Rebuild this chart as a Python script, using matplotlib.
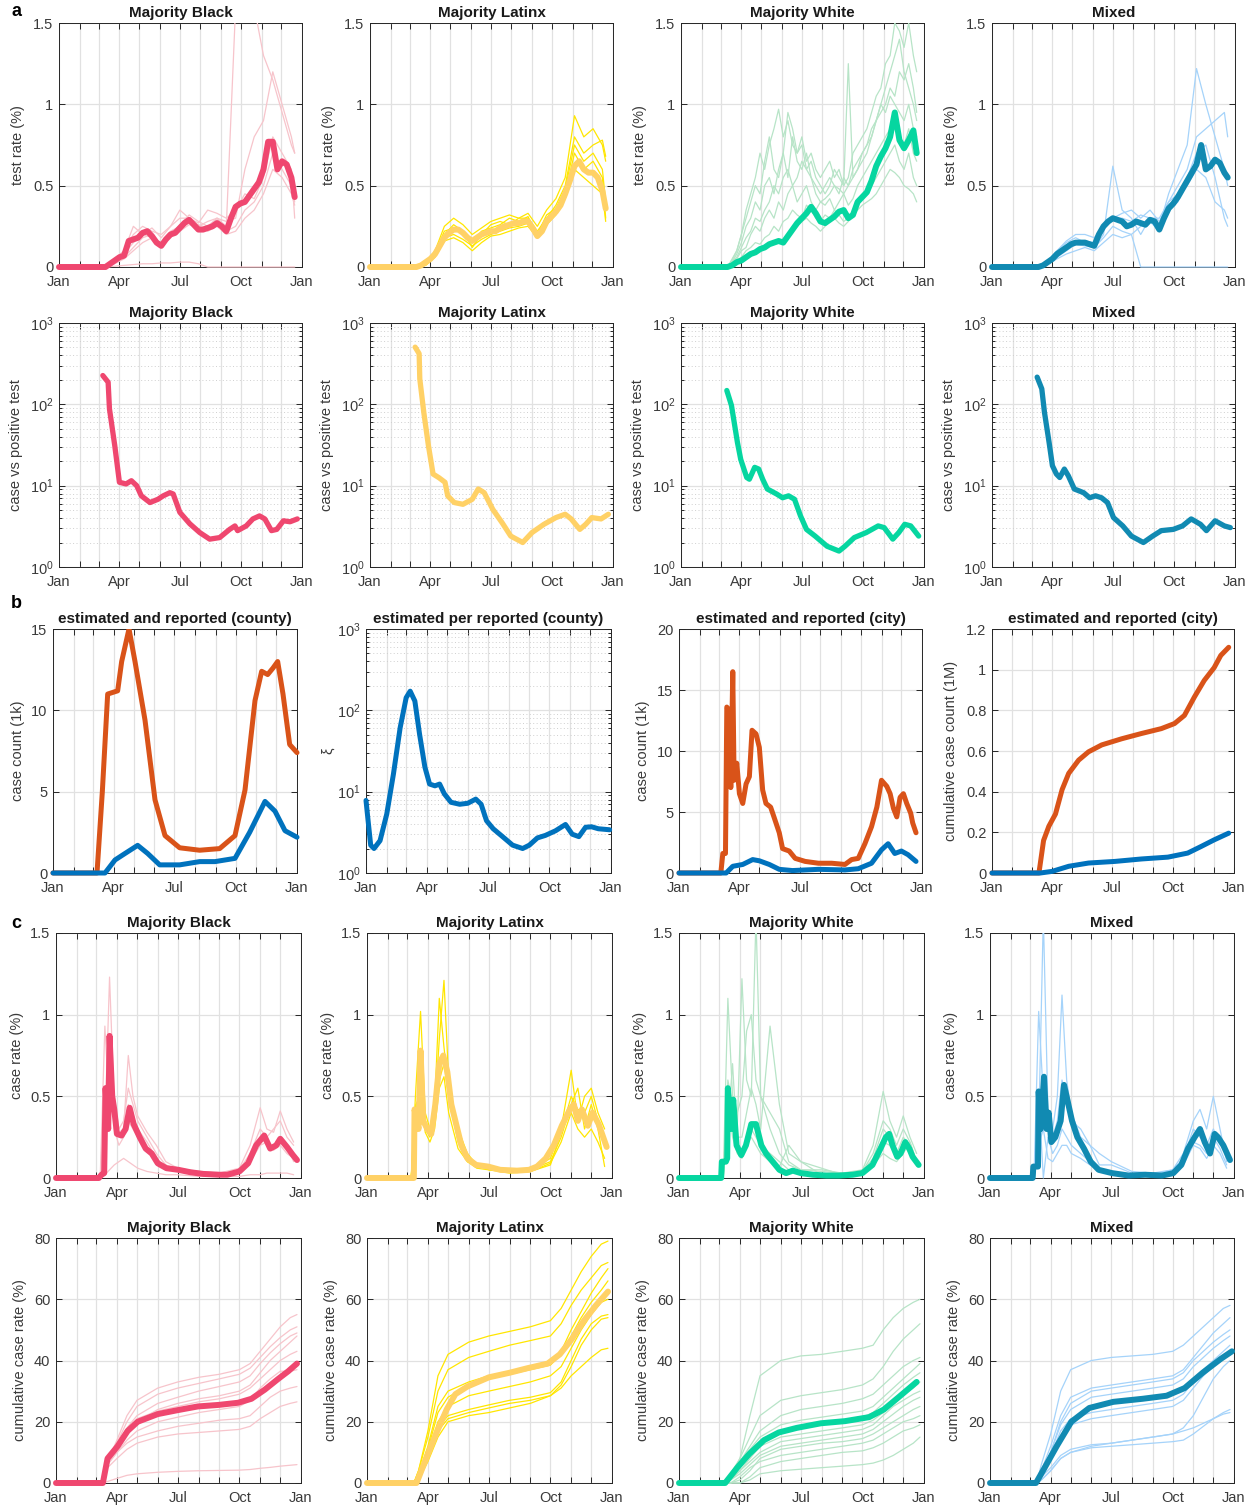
import matplotlib
matplotlib.use("Agg")
import matplotlib.pyplot as plt
from matplotlib.patches import Rectangle
from matplotlib.ticker import FixedLocator, NullFormatter, LogLocator, LogFormatterSciNotation

plt.rcParams['font.family'] = ['Liberation Sans', 'DejaVu Sans']
plt.rcParams['mathtext.fontset'] = 'custom'
plt.rcParams['mathtext.rm'] = 'Liberation Sans'
plt.rcParams['mathtext.it'] = 'Liberation Sans:italic'
plt.rcParams['mathtext.bf'] = 'Liberation Sans:bold'

# ---------------------------------------------------------------- calendar
MONTH_STARTS = [0, 31, 60, 91, 121, 152, 182, 213, 244, 274, 305, 335, 366]
TICK_DAYS = [0, 91, 182, 274, 366]
TICK_LABELS = ['Jan', 'Apr', 'Jul', 'Oct', 'Jan']

GROUPS = ['Majority Black', 'Majority Latinx', 'Majority White', 'Mixed']
THICK_COLORS = ['#EF476F', '#FFD166', '#06D6A0', '#118AB2']
THIN_COLORS = ['#F7C4CB', '#FFE600', '#B7E4C7', '#A5D3FA']
EST_COLOR = '#D95319'
REP_COLOR = '#0072BD'

# ---------------------------------------------------------------- test rate (%)
TEST_DAYS = [0, 70, 77, 84, 91, 98, 105, 112, 119, 126, 133, 140, 147, 154, 161, 168, 175, 182, 189, 196,
             203, 210, 217, 224, 231, 238, 245, 252, 259, 266, 273, 280, 287, 294, 301, 308, 315, 322, 329,
             336, 343, 350, 355]
TEST_BLACK = [0, 0, 0.02, 0.04, 0.06, 0.07, 0.16, 0.17, 0.18, 0.21, 0.22, 0.19, 0.15, 0.13, 0.17, 0.2, 0.21,
              0.24, 0.27, 0.29, 0.26, 0.23, 0.23, 0.24, 0.25, 0.27, 0.25, 0.22, 0.3, 0.37, 0.39, 0.4, 0.44,
              0.48, 0.52, 0.6, 0.77, 0.77, 0.6, 0.65, 0.63, 0.55, 0.43]
TEST_LATINX = [0, 0, 0.01, 0.03, 0.05, 0.08, 0.13, 0.18, 0.21, 0.23, 0.23, 0.21, 0.18, 0.16, 0.18, 0.2, 0.21,
               0.22, 0.22, 0.24, 0.25, 0.26, 0.27, 0.27, 0.28, 0.28, 0.24, 0.19, 0.22, 0.28, 0.31, 0.34, 0.38,
               0.45, 0.53, 0.62, 0.65, 0.6, 0.58, 0.58, 0.55, 0.47, 0.36]
TEST_WHITE = [0, 0, 0.01, 0.03, 0.04, 0.06, 0.08, 0.09, 0.11, 0.12, 0.14, 0.15, 0.16, 0.15, 0.19, 0.23, 0.27,
              0.3, 0.33, 0.37, 0.33, 0.28, 0.27, 0.29, 0.31, 0.34, 0.35, 0.3, 0.32, 0.4, 0.43, 0.46, 0.53,
              0.62, 0.68, 0.73, 0.8, 0.95, 0.78, 0.73, 0.78, 0.84, 0.7]
TEST_MIXED = [0, 0, 0.01, 0.03, 0.05, 0.08, 0.1, 0.12, 0.14, 0.15, 0.15, 0.15, 0.14, 0.13, 0.2, 0.25, 0.28,
              0.3, 0.29, 0.28, 0.25, 0.26, 0.28, 0.27, 0.26, 0.29, 0.28, 0.23, 0.3, 0.36, 0.39, 0.43, 0.48,
              0.53, 0.58, 0.63, 0.75, 0.6, 0.62, 0.66, 0.64, 0.58, 0.55]

TEST_THIN_DAYS = [0, 70, 84, 98, 112, 126, 140, 154, 168, 182, 196, 210, 224, 238, 252, 266, 280, 294, 308,
                  322, 336, 350, 355]
TEST_THIN_BLACK = [
    [0, 0, 0.05, 0.1, 0.2, 0.25, 0.22, 0.2, 0.25, 0.3, 0.3, 0.25, 0.28, 0.3, 0.25, 1.6, 1.6, 1.6, 1.3, 1.15, 0.95, 0.75, 0.7],
    [0, 0, 0.04, 0.08, 0.15, 0.2, 0.18, 0.15, 0.22, 0.25, 0.28, 0.26, 0.24, 0.3, 0.28, 0.3, 0.6, 0.8, 0.9, 1.2, 1.0, 0.8, 0.7],
    [0, 0, 0.03, 0.06, 0.12, 0.18, 0.2, 0.14, 0.2, 0.26, 0.32, 0.28, 0.25, 0.3, 0.22, 0.25, 0.35, 0.4, 0.5, 0.7, 0.6, 0.5, 0.4],
    [0, 0, 0.05, 0.1, 0.25, 0.2, 0.24, 0.18, 0.25, 0.35, 0.3, 0.27, 0.35, 0.33, 0.3, 0.35, 0.45, 0.42, 0.55, 0.8, 0.7, 0.6, 0.3],
    [0, 0, 0.02, 0.05, 0.1, 0.15, 0.18, 0.12, 0.2, 0.22, 0.26, 0.25, 0.22, 0.25, 0.2, 0.22, 0.3, 0.35, 0.45, 0.6, 0.55, 0.45, 0.38],
    [0, 0, 0.005, 0.01, 0.015, 0.02, 0.02, 0.025, 0.025, 0.03, 0.03, 0.02, 0, 0, 0, 0, 0, 0, 0, 0, 0, 0, 0],
]
TEST_THIN_LATINX = [
    [0, 0, 0.03, 0.1, 0.25, 0.3, 0.26, 0.2, 0.24, 0.28, 0.3, 0.32, 0.3, 0.33, 0.25, 0.35, 0.42, 0.55, 0.93, 0.8, 0.85, 0.75, 0.65],
    [0, 0, 0.02, 0.07, 0.18, 0.2, 0.17, 0.13, 0.17, 0.2, 0.22, 0.24, 0.25, 0.27, 0.2, 0.28, 0.33, 0.45, 0.7, 0.6, 0.65, 0.55, 0.3],
    [0, 0, 0.02, 0.08, 0.2, 0.26, 0.22, 0.12, 0.2, 0.26, 0.28, 0.26, 0.3, 0.3, 0.22, 0.3, 0.38, 0.5, 0.8, 0.7, 0.75, 0.78, 0.68],
    [0, 0, 0.01, 0.06, 0.16, 0.18, 0.15, 0.1, 0.15, 0.19, 0.2, 0.22, 0.24, 0.25, 0.18, 0.26, 0.32, 0.42, 0.6, 0.55, 0.5, 0.45, 0.28],
    [0, 0, 0.02, 0.09, 0.22, 0.24, 0.2, 0.15, 0.22, 0.24, 0.26, 0.3, 0.28, 0.31, 0.2, 0.32, 0.36, 0.48, 0.75, 0.65, 0.7, 0.6, 0.4],
]
# weekly neighbourhood series for the majority-White group (same days as TEST_DAYS)
TEST_THIN_WHITE = [
    [0, 0, 0.05, 0.1, 0.2, 0.35, 0.45, 0.55, 0.7, 0.6, 0.75, 0.85, 0.97, 0.8, 0.9, 0.75, 0.7, 0.8, 0.65, 0.7,
     0.6, 0.55, 0.6, 0.65, 0.55, 0.6, 0.5, 0.55, 0.7, 0.75, 0.8, 0.85, 0.95, 1.05, 1.1, 1.25, 1.3, 1.5, 1.45,
     1.35, 1.5, 1.3, 1.2],
    [0, 0, 0.03, 0.08, 0.15, 0.25, 0.3, 0.4, 0.35, 0.5, 0.55, 0.45, 0.6, 0.7, 0.55, 0.8, 0.65, 0.6, 0.7, 0.55,
     0.5, 0.45, 0.5, 0.55, 0.5, 0.45, 0.55, 0.5, 0.6, 0.65, 0.7, 0.75, 0.8, 0.9, 0.95, 1.0, 1.1, 1.05, 1.2,
     1.15, 1.25, 1.1, 0.95],
    [0, 0, 0.02, 0.05, 0.1, 0.12, 0.2, 0.25, 0.22, 0.3, 0.35, 0.3, 0.4, 0.35, 0.45, 0.5, 0.4, 0.45, 0.5, 0.4,
     0.35, 0.4, 0.38, 0.42, 0.35, 0.4, 0.45, 0.38, 0.42, 0.5, 0.55, 0.6, 0.65, 0.7, 0.75, 0.8, 0.85, 0.9, 0.8,
     0.75, 0.85, 0.7, 0.65],
    [0, 0, 0.02, 0.04, 0.06, 0.1, 0.12, 0.15, 0.14, 0.18, 0.2, 0.25, 0.22, 0.28, 0.3, 0.35, 0.32, 0.3, 0.38,
     0.35, 0.3, 0.28, 0.32, 0.3, 0.35, 0.32, 0.28, 0.3, 0.35, 0.4, 0.42, 0.45, 0.5, 0.55, 0.6, 0.65, 0.7, 0.75,
     0.65, 0.6, 0.7, 0.55, 0.5],
    [0, 0, 0.04, 0.1, 0.2, 0.3, 0.4, 0.5, 0.45, 0.65, 0.8, 0.6, 0.55, 0.7, 0.95, 0.85, 0.7, 0.75, 0.6, 0.65,
     0.55, 0.5, 0.45, 0.5, 0.6, 0.55, 0.5, 1.25, 0.55, 0.6, 0.65, 0.7, 0.8, 0.9, 1.0, 1.1, 1.2, 1.3, 1.4, 1.2,
     1.1, 1.0, 0.9],
    [0, 0, 0.01, 0.03, 0.05, 0.07, 0.08, 0.1, 0.12, 0.11, 0.13, 0.15, 0.17, 0.16, 0.2, 0.22, 0.25, 0.28, 0.3,
     0.27, 0.25, 0.22, 0.25, 0.28, 0.3, 0.27, 0.25, 0.28, 0.32, 0.35, 0.38, 0.4, 0.42, 0.45, 0.5, 0.55, 0.6,
     0.58, 0.55, 0.5, 0.48, 0.45, 0.4],
    [0, 0, 0.03, 0.06, 0.12, 0.18, 0.22, 0.3, 0.28, 0.35, 0.4, 0.5, 0.45, 0.55, 0.6, 0.5, 0.55, 0.65, 0.6, 0.55,
     0.45, 0.4, 0.42, 0.45, 0.5, 0.48, 0.45, 0.5, 0.55, 0.6, 0.7, 0.75, 0.85, 0.9, 1.0, 0.95, 1.05, 1.0, 0.95,
     0.9, 1.0, 0.85, 0.8],
]
TEST_THIN_MIXED = [
    [0, 0, 0.03, 0.1, 0.15, 0.18, 0.15, 0.12, 0.2, 0.62, 0.35, 0.3, 0.2, 0.3, 0.25, 0.45, 0.6, 0.75, 1.22, 1.0, 0.8, 0.6, 0.5],
    [0, 0, 0.02, 0.08, 0.12, 0.14, 0.13, 0.12, 0.18, 0.25, 0.22, 0.2, 0, 0, 0, 0, 0, 0, 0, 0, 0, 0, 0],
    [0, 0, 0.02, 0.06, 0.1, 0.14, 0.16, 0.15, 0.25, 0.3, 0.33, 0.35, 0.3, 0.35, 0.28, 0.4, 0.45, 0.5, 0.6, 0.55, 0.4, 0.35, 0.3],
    [0, 0, 0.04, 0.1, 0.16, 0.2, 0.2, 0.18, 0.25, 0.3, 0.3, 0.28, 0.32, 0.3, 0.3, 0.4, 0.5, 0.6, 0.8, 0.85, 0.9, 0.95, 0.8],
    [0, 0, 0.02, 0.05, 0.08, 0.1, 0.12, 0.1, 0.15, 0.2, 0.18, 0.2, 0.25, 0.28, 0.22, 0.35, 0.4, 0.55, 0.7, 0.75, 0.55, 0.3, 0.25],
]

# ---------------------------------------------------------------- cases per positive test
RATIO_X_BLACK = [66, 74, 76, 84, 91, 101, 109, 117, 124, 137, 149, 157, 167, 172, 182, 197, 212, 227, 242, 257,
                 265, 269, 282, 292, 302, 310, 320, 328, 338, 348, 359]
RATIO_Y_BLACK = [226, 187, 88, 31, 11, 10.5, 11.5, 10, 7.5, 6.2, 6.8, 7.5, 8.2, 7.9, 4.7, 3.4, 2.65, 2.2, 2.3,
                 2.9, 3.2, 2.8, 3.2, 3.9, 4.25, 3.9, 2.8, 2.9, 3.7, 3.6, 3.9]
RATIO_X_LATINX = [68, 74, 75, 81, 88, 95, 104, 113, 117, 127, 140, 154, 163, 172, 185, 199, 212, 230, 244, 262,
                  280, 294, 303, 316, 325, 334, 348, 359]
RATIO_Y_LATINX = [505, 420, 205, 80, 31, 13.9, 12.5, 11, 7.5, 6.2, 5.9, 6.8, 9.1, 8.2, 5.1, 3.5, 2.4, 2.0, 2.65,
                  3.35, 4.05, 4.45, 3.9, 2.9, 3.35, 4.05, 3.9, 4.45]
RATIO_X_WHITE = [69, 76, 85, 90, 99, 103, 111, 117, 123, 130, 144, 153, 162, 171, 180, 189, 202, 220, 238, 247,
                 261, 279, 297, 306, 319, 328, 337, 346, 358]
RATIO_Y_WHITE = [148, 97, 34, 21, 12.6, 12, 16.8, 16, 12, 9.1, 7.9, 7.1, 7.5, 6.8, 4.25, 2.9, 2.4, 1.8, 1.57,
                 1.8, 2.3, 2.65, 3.2, 3.05, 2.2, 2.65, 3.35, 3.2, 2.4]
RATIO_X_MIXED = [68, 75, 79, 86, 91, 97, 102, 109, 115, 124, 138, 147, 156, 165, 174, 183, 197, 210, 228, 242,
                 255, 273, 287, 300, 314, 323, 336, 350, 359]
RATIO_Y_MIXED = [216, 155, 80, 34, 17.6, 13.9, 12.6, 16, 13.2, 9.1, 8.2, 7.1, 7.5, 7.1, 6.2, 4.05, 3.2, 2.4, 2.0,
                 2.4, 2.8, 2.9, 3.2, 3.9, 3.35, 2.8, 3.7, 3.2, 3.05]

# ---------------------------------------------------------------- county / city totals
COUNTY_EST_X = [0, 66, 74, 82, 97, 103, 114, 123, 138, 153, 168, 190, 220, 250, 273, 288, 303, 313, 322, 330,
                337, 345, 355, 366]
COUNTY_EST_Y = [0, 0, 5, 11, 11.2, 13, 15, 13, 9.4, 4.5, 2.3, 1.55, 1.4, 1.5, 2.3, 5.1, 10.6, 12.4, 12.2, 12.6,
                13.0, 11, 7.9, 7.4]
COUNTY_REP_X = [0, 78, 93, 108, 127, 142, 160, 190, 220, 243, 273, 295, 318, 333, 348, 366]
COUNTY_REP_Y = [0, 0, 0.8, 1.2, 1.7, 1.2, 0.5, 0.5, 0.7, 0.7, 0.9, 2.5, 4.4, 3.8, 2.6, 2.2]

XI_X = [0, 3, 7, 12, 21, 31, 41, 51, 60, 66, 73, 80, 88, 95, 103, 110, 117, 127, 140, 152, 164, 172, 180, 190,
        204, 219, 234, 244, 256, 268, 283, 298, 308, 318, 328, 337, 347, 364]
XI_Y = [7.8, 4.5, 2.2, 2.0, 2.5, 5.3, 16.5, 61, 143, 172, 130, 51, 20, 12.4, 11.8, 12.4, 9.4, 7.4, 7.0, 7.2, 8.1,
        7.0, 4.4, 3.5, 2.8, 2.2, 2.0, 2.2, 2.7, 2.9, 3.3, 3.95, 3.0, 2.8, 3.65, 3.7, 3.5, 3.4]

CITY_EST_X = [0, 63, 66, 70, 72, 76, 78, 81, 83, 87, 91, 96, 101, 106, 110, 116, 121, 126, 131, 138, 143, 151,
              156, 166, 175, 190, 210, 230, 250, 260, 270, 280, 290, 298, 305, 313, 318, 323, 328, 333, 338, 343,
              349, 352, 357]
CITY_EST_Y = [0, 0, 1.6, 1.6, 13.6, 13.3, 7.0, 16.5, 7.6, 9.0, 6.5, 5.7, 7.3, 7.9, 11.7, 11.4, 10.3, 6.8, 5.7,
              5.4, 4.6, 3.3, 2.0, 1.8, 1.2, 0.95, 0.8, 0.8, 0.7, 1.1, 1.2, 2.4, 3.8, 5.4, 7.6, 7.1, 6.5, 5.3, 4.6,
              6.2, 6.5, 5.7, 4.9, 4.1, 3.3]
CITY_REP_X = [0, 71, 81, 96, 111, 121, 136, 151, 171, 210, 250, 270, 290, 305, 315, 325, 335, 345, 357]
CITY_REP_Y = [0, 0, 0.55, 0.7, 1.1, 1.0, 0.7, 0.3, 0.2, 0.3, 0.25, 0.35, 0.8, 1.9, 2.4, 1.6, 1.8, 1.5, 0.95]

CITY_CUM_EST_X = [0, 71, 78, 86, 96, 106, 116, 131, 146, 166, 196, 226, 256, 276, 291, 306, 321, 336, 346, 358]
CITY_CUM_EST_Y = [0, 0, 0.16, 0.23, 0.29, 0.41, 0.49, 0.555, 0.596, 0.63, 0.66, 0.686, 0.71, 0.735, 0.775,
                  0.865, 0.947, 1.01, 1.07, 1.11]
CITY_CUM_REP_X = [0, 73, 91, 116, 146, 186, 226, 266, 296, 316, 336, 358]
CITY_CUM_REP_Y = [0, 0, 0.008, 0.033, 0.049, 0.057, 0.069, 0.078, 0.098, 0.13, 0.163, 0.196]

# ---------------------------------------------------------------- case rate (%)
CASE_X_BLACK = [0, 64, 68, 72, 74, 78, 80, 84, 87, 91, 98, 104, 110, 116, 125, 134, 143, 152, 165, 183, 201,
                220, 244, 256, 274, 287, 299, 311, 320, 329, 335, 345, 354, 360]
CASE_Y_BLACK = [0, 0, 0.02, 0.03, 0.55, 0.3, 0.87, 0.5, 0.42, 0.27, 0.26, 0.3, 0.43, 0.33, 0.25, 0.18, 0.15,
                0.09, 0.06, 0.05, 0.035, 0.025, 0.02, 0.02, 0.04, 0.09, 0.2, 0.26, 0.18, 0.2, 0.24, 0.19, 0.14,
                0.11]
CASE_X_LATINX = [0, 68, 70, 71, 77, 80, 84, 90, 96, 102, 108, 114, 120, 126, 132, 141, 150, 163, 181, 199, 224,
                 242, 254, 267, 279, 291, 303, 309, 315, 321, 330, 337, 346, 352, 358]
CASE_Y_LATINX = [0, 0, 0.0, 0.42, 0.3, 0.78, 0.35, 0.3, 0.27, 0.45, 0.7, 0.75, 0.65, 0.45, 0.35, 0.2, 0.12,
                 0.08, 0.07, 0.05, 0.045, 0.05, 0.07, 0.12, 0.2, 0.32, 0.42, 0.45, 0.35, 0.42, 0.32, 0.4, 0.33,
                 0.26, 0.19]
CASE_X_WHITE = [0, 63, 64, 70, 72, 73, 78, 81, 86, 93, 100, 108, 115, 123, 130, 140, 150, 160, 170, 182, 200,
                220, 239, 259, 274, 289, 301, 309, 314, 319, 326, 331, 338, 344, 349, 358]
CASE_Y_WHITE = [0, 0, 0.1, 0.1, 0.12, 0.55, 0.3, 0.48, 0.2, 0.14, 0.2, 0.33, 0.33, 0.2, 0.15, 0.1, 0.05, 0.03,
                0.045, 0.03, 0.02, 0.015, 0.015, 0.02, 0.03, 0.08, 0.18, 0.25, 0.27, 0.2, 0.13, 0.15, 0.22, 0.18,
                0.13, 0.08]
CASE_X_MIXED = [0, 64, 65, 72, 73, 76, 81, 85, 88, 92, 98, 106, 111, 116, 123, 131, 141, 151, 163, 183, 208,
                233, 258, 275, 287, 297, 307, 315, 322, 330, 337, 342, 350, 360]
CASE_Y_MIXED = [0, 0, 0.07, 0.07, 0.53, 0.3, 0.62, 0.3, 0.4, 0.22, 0.25, 0.35, 0.57, 0.48, 0.35, 0.25, 0.18,
                0.1, 0.05, 0.03, 0.015, 0.02, 0.015, 0.03, 0.08, 0.18, 0.25, 0.3, 0.22, 0.15, 0.27, 0.25, 0.2,
                0.11]

CASE_THIN_DAYS = [0, 66, 73, 80, 87, 94, 101, 108, 115, 122, 136, 150, 164, 182, 213, 244, 274, 290, 305, 315,
                  325, 335, 345, 355]
CASE_THIN_BLACK = [
    [0, 0, 0.93, 0.4, 0.5, 0.3, 0.35, 0.55, 0.45, 0.35, 0.25, 0.15, 0.08, 0.05, 0.04, 0.03, 0.06, 0.2, 0.43, 0.3, 0.28, 0.41, 0.3, 0.22],
    [0, 0, 0.3, 1.23, 0.45, 0.28, 0.3, 0.75, 0.5, 0.38, 0.28, 0.2, 0.1, 0.06, 0.04, 0.03, 0.05, 0.15, 0.3, 0.25, 0.3, 0.35, 0.25, 0.2],
    [0, 0, 0.2, 0.6, 0.35, 0.25, 0.28, 0.45, 0.38, 0.3, 0.22, 0.12, 0.07, 0.05, 0.03, 0.02, 0.04, 0.12, 0.25, 0.2, 0.2, 0.25, 0.2, 0.1],
    [0, 0, 0.5, 0.7, 0.3, 0.2, 0.25, 0.35, 0.3, 0.25, 0.18, 0.1, 0.06, 0.04, 0.03, 0.02, 0.03, 0.1, 0.2, 0.22, 0.17, 0.2, 0.15, 0.12],
    [0, 0, 0.02, 0.05, 0.08, 0.1, 0.12, 0.1, 0.08, 0.06, 0.04, 0.03, 0.02, 0.02, 0.01, 0.01, 0.01, 0.02, 0.02, 0.03, 0.03, 0.03, 0.03, 0.02],
]
CASE_THIN_LATINX = [
    [0, 0, 0.55, 1.02, 0.4, 0.3, 0.45, 1.1, 0.8, 0.55, 0.3, 0.15, 0.08, 0.06, 0.05, 0.05, 0.12, 0.3, 0.66, 0.35, 0.5, 0.55, 0.4, 0.3],
    [0, 0, 0.4, 0.6, 0.3, 0.25, 0.4, 0.85, 1.21, 0.6, 0.25, 0.12, 0.07, 0.06, 0.04, 0.05, 0.1, 0.25, 0.45, 0.55, 0.3, 0.45, 0.3, 0.07],
    [0, 0, 0.35, 0.7, 0.32, 0.28, 0.35, 0.6, 0.7, 0.5, 0.22, 0.1, 0.08, 0.05, 0.04, 0.04, 0.09, 0.22, 0.4, 0.3, 0.25, 0.3, 0.22, 0.12],
    [0, 0, 0.45, 0.5, 0.28, 0.22, 0.3, 0.55, 0.62, 0.4, 0.18, 0.1, 0.06, 0.05, 0.03, 0.04, 0.08, 0.28, 0.5, 0.42, 0.4, 0.5, 0.35, 0.2],
]
CASE_THIN_WHITE = [
    [0, 0, 1.1, 0.5, 0.4, 0.5, 0.9, 1.0, 0.6, 0.5, 0.4, 0.3, 0.1, 0.05, 0.05, 0.03, 0.05, 0.2, 0.53, 0.35, 0.25, 0.38, 0.25, 0.15],
    [0, 0, 0.6, 0.45, 0.3, 1.22, 0.6, 0.5, 1.6, 0.5, 0.3, 0.15, 0.08, 0.05, 0.04, 0.03, 0.04, 0.15, 0.35, 0.3, 0.2, 0.3, 0.22, 0.1],
    [0, 0, 0.4, 0.3, 0.25, 0.25, 0.4, 0.55, 0.45, 0.3, 0.93, 0.45, 0.15, 0.1, 0.06, 0.02, 0.04, 0.12, 0.3, 0.25, 0.15, 0.25, 0.2, 0.1],
    [0, 0, 0.3, 0.7, 0.2, 0.15, 0.2, 0.3, 0.25, 0.2, 0.15, 0.1, 0.05, 0.04, 0.02, 0.02, 0.03, 0.1, 0.22, 0.2, 0.15, 0.2, 0.15, 0.08],
    [0, 0, 0.5, 0.25, 0.15, 0.12, 0.2, 0.25, 0.2, 0.15, 0.1, 0.07, 0.2, 0.1, 0.02, 0.01, 0.02, 0.08, 0.15, 0.12, 0.1, 0.15, 0.22, 0.1],
]
CASE_THIN_MIXED = [
    [0, 0, 1.02, 0.5, 0.3, 0.3, 0.5, 1.12, 0.6, 0.4, 0.25, 0.2, 0.08, 0.08, 0.03, 0.02, 0.05, 0.15, 0.35, 0.42, 0.3, 0.5, 0.3, 0.1],
    [0, 0, 0.3, 1.6, 0.4, 0.25, 0.35, 0.6, 0.5, 0.35, 0.3, 0.2, 0.15, 0.1, 0.04, 0.03, 0.05, 0.12, 0.3, 0.25, 0.2, 0.3, 0.22, 0.15],
    [0, 0, 0.5, 0.0, 0.25, 0.15, 0.2, 0.3, 0.25, 0.2, 0.15, 0.1, 0.05, 0.04, 0.02, 0.01, 0.03, 0.1, 0.22, 0.2, 0.15, 0.25, 0.18, 0.08],
    [0, 0, 0.2, 0.3, 0.12, 0.1, 0.15, 0.2, 0.2, 0.15, 0.12, 0.08, 0.05, 0.03, 0.02, 0.01, 0.02, 0.08, 0.2, 0.18, 0.12, 0.2, 0.15, 0.06],
]

# ---------------------------------------------------------------- cumulative case rate (%)
CUM_X_BLACK = [0, 70, 77, 92, 107, 122, 152, 182, 212, 243, 272, 292, 312, 332, 347, 360]
CUM_Y_BLACK = [0, 0, 8, 12, 17, 20, 22.5, 23.8, 25, 25.5, 26.2, 27.5, 30.5, 34, 36.5, 39]
CUM_X_LATINX = [0, 74, 92, 105, 119, 132, 150, 182, 213, 240, 270, 288, 306, 324, 342, 360]
CUM_Y_LATINX = [0, 0, 10, 17, 24, 29, 31.5, 34.5, 36, 37.5, 39, 42, 47, 53, 58, 62.5]
CUM_X_WHITE = [0, 69, 87, 105, 127, 149, 176, 212, 248, 284, 306, 328, 355]
CUM_Y_WHITE = [0, 0, 5, 9.5, 14, 16.5, 18, 19.5, 20.2, 21.5, 24, 28, 33]
CUM_X_MIXED = [0, 69, 82, 100, 122, 149, 185, 229, 265, 292, 319, 346, 363]
CUM_Y_MIXED = [0, 0, 5, 12, 20, 24.5, 26.5, 27.5, 28.5, 31, 36, 40.5, 43]

CUM_THIN_DAYS = [0, 70, 77, 91, 106, 121, 152, 182, 213, 244, 274, 290, 305, 320, 335, 350, 360]
CUM_THIN_BLACK = [
    [0, 0, 7, 14, 22, 27, 31, 33, 34.5, 35.5, 37, 39, 43, 47, 51, 54, 55],
    [0, 0, 7, 13, 20, 25, 29, 31, 32.5, 34, 35.5, 37.5, 41, 44.5, 47.5, 50, 51],
    [0, 0, 7, 12, 18, 22, 26, 28, 30, 31.5, 33, 35, 39, 42.5, 45.5, 48, 49],
    [0, 0, 6, 11, 16, 20, 24, 26, 27.5, 28.5, 30, 32, 36, 40, 43, 46, 48],
    [0, 0, 7, 12, 17, 21, 23.5, 25, 26.5, 27.5, 29, 31, 34, 37, 40, 42, 43],
    [0, 0, 6, 10, 14, 17, 20, 21.5, 23, 24, 25, 27, 31, 34, 36.5, 36.5, 37],
    [0, 0, 6, 10, 13, 15, 17, 18.5, 19.5, 20.5, 21, 22, 25, 28, 30, 31, 31.5],
    [0, 0, 5, 8, 11, 13, 15, 16, 16.5, 17, 17.5, 18.5, 21, 23, 25, 26, 26.5],
    [0, 0, 0.5, 1.5, 2.5, 3, 3.5, 3.8, 4, 4.1, 4.2, 4.4, 4.8, 5.1, 5.5, 5.8, 6],
]
CUM_THIN_LATINX = [
    [0, 0, 4, 17, 35, 42, 46, 48, 49.5, 51, 53, 57, 63, 69, 74, 78, 79],
    [0, 0, 4, 15, 30, 37, 41, 43, 45, 46.5, 48, 52, 58, 63, 67, 71, 72],
    [0, 0, 3, 12, 25, 30, 33, 35, 36.5, 38, 39.5, 43, 50, 56, 62, 67, 70],
    [0, 0, 3, 11, 23, 28, 32, 34, 35.5, 37, 38.5, 42, 48, 54, 59, 63, 66],
    [0, 0, 2, 9, 18, 22, 24, 25.5, 27, 28, 29.5, 33, 40, 47, 52, 54.5, 55],
    [0, 0, 2, 8, 17, 21, 23, 24.5, 26, 27, 28.5, 32, 38, 45, 50, 53.5, 54],
    [0, 0, 1, 7, 15, 20, 22, 23, 24.5, 26, 28.5, 31, 35, 38, 41, 43.5, 44],
    [0, 0, 3, 10, 20, 25, 28.5, 30, 31.5, 33, 35, 38, 44, 50, 55, 59, 60],
]
CUM_THIN_WHITE = [
    [0, 0, 2, 8, 22, 35, 40, 41.5, 42, 43, 44, 45, 50, 54, 57, 59, 60],
    [0, 0, 3, 8, 15, 22, 27, 28.5, 29.5, 30.5, 32, 34, 38, 43, 47, 50, 52],
    [0, 0, 3, 7, 12, 17, 22, 24, 25, 26, 27.5, 29, 32, 35, 38, 40, 41],
    [0, 0, 2, 6, 11, 15, 19, 20.5, 21.5, 22.5, 23.5, 25, 28, 31, 34, 37, 39],
    [0, 0, 2, 5, 9, 13, 17, 18, 19, 20, 21.5, 23, 26, 29, 32, 34.5, 36],
    [0, 0, 1, 4, 8, 12, 15, 16, 17, 18, 19, 20.5, 23, 26, 29, 31, 33],
    [0, 0, 1, 4, 7, 10, 13.5, 14.5, 15.5, 16.5, 17.5, 19, 22, 25, 27, 29, 30],
    [0, 0, 1, 3, 6, 9, 12, 13, 14, 15, 16, 17.5, 20, 22.5, 25, 27, 28],
    [0, 0, 0, 1, 4, 8, 11, 12, 13, 13.5, 14.5, 16, 18, 20, 22, 24, 25],
    [0, 0, 0, 2, 5, 7, 9, 10, 11, 12, 13, 14, 16, 18, 20, 21, 22],
    [0, 0, 0, 0, 2, 5, 7, 8, 9, 10, 10.5, 11.5, 13, 15, 17, 18, 19],
    [0, 0, 0, 0, 1, 3, 4, 4.5, 5, 5.5, 6, 6.5, 7.5, 9, 11, 13, 15],
]
CUM_THIN_MIXED = [
    [0, 0, 6, 16, 30, 37, 40, 41, 41.5, 42, 43, 45, 48, 51, 54, 57, 58],
    [0, 0, 4, 12, 22, 28, 31, 32, 33, 34, 35, 37, 41, 45, 49, 52, 54],
    [0, 0, 3, 10, 20, 26, 30, 31, 32, 33, 34, 36, 40, 43, 46, 48.5, 50],
    [0, 0, 3, 10, 19, 24, 28, 29, 30, 31, 32, 34, 38, 41, 44, 46.5, 48],
    [0, 0, 3, 9, 17, 21, 23, 24, 25, 26, 27, 29, 33, 37, 40, 43, 45],
    [0, 0, 2, 8, 15, 19, 21, 22, 23, 24, 25, 27, 31, 35, 38, 40.5, 42],
    [0, 0, 2, 5, 9, 11, 12.5, 13, 14, 15, 16, 18, 22, 28, 34, 38, 40],
    [0, 0, 1, 4, 8, 10, 11.5, 12, 12.5, 13, 13.5, 14, 16, 18.5, 21, 23, 24],
    [0, 0, 1, 4, 8, 10, 12, 13, 14, 15, 16, 17, 18, 19.5, 21, 22.5, 23],
]

# ---------------------------------------------------------------- layout (pixels)
W, H = 1257, 1506
fig = plt.figure(figsize=(W / 100, H / 100), dpi=100)

ROWS = [(23, 267), (323, 567), (629, 873), (933, 1178), (1238, 1483)]
COLS_A = [(59, 302), (370, 613), (681, 924), (992, 1235)]
COLS_B = [(53, 297), (366, 611), (679, 922), (992, 1234)]
COLS_C = [(56, 301), (367, 612), (679, 924), (990, 1234)]

TEXT = '#262626'
TICK_TEXT = '#3a3a3a'
GRID = '#e1e1e1'


def add_axes_px(col, row):
    l, r = col
    t, b = row
    ax = fig.add_axes([l / W, 1 - b / H, (r - l) / W, (b - t) / H])
    ax._px_width = r - l
    return ax


def style(ax, ylim, yticks=None, log=False, ylabel='', title='', label_off=32):
    ax.set_xlim(0, 366)
    if log:
        ax.set_yscale('log')
    ax.set_ylim(*ylim)
    ax.xaxis.set_major_locator(FixedLocator(TICK_DAYS))
    ax.set_xticklabels(TICK_LABELS)
    ax.xaxis.set_minor_locator(FixedLocator([d for d in MONTH_STARTS if d not in TICK_DAYS]))
    ax.xaxis.set_minor_formatter(NullFormatter())
    if log:
        ax.yaxis.set_major_locator(FixedLocator([1, 10, 100, 1000]))
        ax.yaxis.set_major_formatter(LogFormatterSciNotation())
        ax.yaxis.set_minor_locator(LogLocator(base=10, subs=range(2, 10)))
        ax.yaxis.set_minor_formatter(NullFormatter())
        ax.grid(True, which='minor', axis='y', color='#cfcfcf', lw=0.7, ls=(0, (1, 2.5)))
    else:
        ax.yaxis.set_major_locator(FixedLocator(yticks))
        ax.set_yticklabels([f'{v:g}' for v in yticks])
    ax.grid(True, which='both', axis='x', color=GRID, lw=0.9)
    ax.grid(True, which='major', axis='y', color=GRID, lw=0.9)
    ax.set_axisbelow(True)
    ax.tick_params(which='both', direction='in', top=True, right=True, length=4, width=0.7,
                   color=TEXT, labelcolor=TICK_TEXT, labelsize=10.5)
    ax.tick_params(axis='x', which='both', pad=6)
    ax.tick_params(axis='y', which='both', pad=4)
    if log:
        ax.tick_params(which='minor', axis='y', length=2)
    for sp in ax.spines.values():
        sp.set_color(TEXT)
        sp.set_linewidth(0.7)
    if ylabel:
        ax.set_ylabel(ylabel, fontsize=10.5, color=TICK_TEXT)
        ax.yaxis.set_label_coords(-label_off / ax._px_width, 0.5)
    if title:
        ax.set_title(title, fontsize=11, fontweight='bold', color='#1a1a1a', pad=4)


def draw(ax, x, y, color, lw, z=3):
    line, = ax.plot(x, y, color=color, lw=lw, zorder=z, solid_joinstyle='round', solid_capstyle='round')
    clip = Rectangle((-0.02, -0.03), 1.04, 1.03, transform=ax.transAxes, facecolor='none', edgecolor='none')
    line.set_clip_path(clip)
    return line


# ---------------------------------------------------------------- row 1: test rate
test_thick = [TEST_BLACK, TEST_LATINX, TEST_WHITE, TEST_MIXED]
test_thin = [TEST_THIN_BLACK, TEST_THIN_LATINX, TEST_THIN_WHITE, TEST_THIN_MIXED]
test_thin_x = [TEST_THIN_DAYS, TEST_THIN_DAYS, TEST_DAYS, TEST_THIN_DAYS]
for i in range(4):
    ax = add_axes_px(COLS_A[i], ROWS[0])
    for s in test_thin[i]:
        draw(ax, test_thin_x[i], s, THIN_COLORS[i], 0.9, z=2.6)
    draw(ax, TEST_DAYS, test_thick[i], THICK_COLORS[i], 4.3)
    style(ax, (0, 1.5), [0, 0.5, 1, 1.5], ylabel='test rate (%)', title=GROUPS[i], label_off=34)

# ---------------------------------------------------------------- row 2: case vs positive test
ratio_x = [RATIO_X_BLACK, RATIO_X_LATINX, RATIO_X_WHITE, RATIO_X_MIXED]
ratio_y = [RATIO_Y_BLACK, RATIO_Y_LATINX, RATIO_Y_WHITE, RATIO_Y_MIXED]
for i in range(4):
    ax = add_axes_px(COLS_A[i], ROWS[1])
    draw(ax, ratio_x[i], ratio_y[i], THICK_COLORS[i], 3.8)
    style(ax, (1, 1000), log=True, ylabel='case vs positive test', title=GROUPS[i], label_off=36)

# ---------------------------------------------------------------- row 3: estimated vs reported
ax = add_axes_px(COLS_B[0], ROWS[2])
draw(ax, COUNTY_EST_X, COUNTY_EST_Y, EST_COLOR, 3.6)
draw(ax, COUNTY_REP_X, COUNTY_REP_Y, REP_COLOR, 3.6)
style(ax, (0, 15), [0, 5, 10, 15], ylabel='case count (1k)', title='estimated and reported (county)',
      label_off=28)

ax = add_axes_px(COLS_B[1], ROWS[2])
draw(ax, XI_X, XI_Y, REP_COLOR, 3.6)
style(ax, (1, 1000), log=True, ylabel='ξ', title='estimated per reported (county)', label_off=31)

ax = add_axes_px(COLS_B[2], ROWS[2])
draw(ax, CITY_EST_X, CITY_EST_Y, EST_COLOR, 3.6)
draw(ax, CITY_REP_X, CITY_REP_Y, REP_COLOR, 3.6)
style(ax, (0, 20), [0, 5, 10, 15, 20], ylabel='case count (1k)', title='estimated and reported (city)',
      label_off=29)

ax = add_axes_px(COLS_B[3], ROWS[2])
draw(ax, CITY_CUM_EST_X, CITY_CUM_EST_Y, EST_COLOR, 3.6)
draw(ax, CITY_CUM_REP_X, CITY_CUM_REP_Y, REP_COLOR, 3.6)
style(ax, (0, 1.2), [0, 0.2, 0.4, 0.6, 0.8, 1, 1.2], ylabel='cumulative case count (1M)',
      title='estimated and reported (city)', label_off=34)

# ---------------------------------------------------------------- row 4: case rate
case_x = [CASE_X_BLACK, CASE_X_LATINX, CASE_X_WHITE, CASE_X_MIXED]
case_y = [CASE_Y_BLACK, CASE_Y_LATINX, CASE_Y_WHITE, CASE_Y_MIXED]
case_thin = [CASE_THIN_BLACK, CASE_THIN_LATINX, CASE_THIN_WHITE, CASE_THIN_MIXED]
for i in range(4):
    ax = add_axes_px(COLS_C[i], ROWS[3])
    for s in case_thin[i]:
        draw(ax, CASE_THIN_DAYS, s, THIN_COLORS[i], 0.9, z=2.6)
    draw(ax, case_x[i], case_y[i], THICK_COLORS[i], 4.3)
    style(ax, (0, 1.5), [0, 0.5, 1, 1.5], ylabel='case rate (%)', title=GROUPS[i], label_off=32)

# ---------------------------------------------------------------- row 5: cumulative case rate
cum_x = [CUM_X_BLACK, CUM_X_LATINX, CUM_X_WHITE, CUM_X_MIXED]
cum_y = [CUM_Y_BLACK, CUM_Y_LATINX, CUM_Y_WHITE, CUM_Y_MIXED]
cum_thin = [CUM_THIN_BLACK, CUM_THIN_LATINX, CUM_THIN_WHITE, CUM_THIN_MIXED]
for i in range(4):
    ax = add_axes_px(COLS_C[i], ROWS[4])
    for s in cum_thin[i]:
        draw(ax, CUM_THIN_DAYS, s, THIN_COLORS[i], 0.9, z=2.6)
    draw(ax, cum_x[i], cum_y[i], THICK_COLORS[i], 4.3)
    style(ax, (0, 80), [0, 20, 40, 60, 80], ylabel='cumulative case rate (%)', title=GROUPS[i],
          label_off=29)

# ---------------------------------------------------------------- panel letters
for letter, y in [('a', 12), ('b', 604), ('c', 924)]:
    fig.text(11 / W, 1 - y / H, letter, fontsize=13, fontweight='bold', color='black',
             ha='left', va='center')

fig.savefig('out.png', dpi=100)
